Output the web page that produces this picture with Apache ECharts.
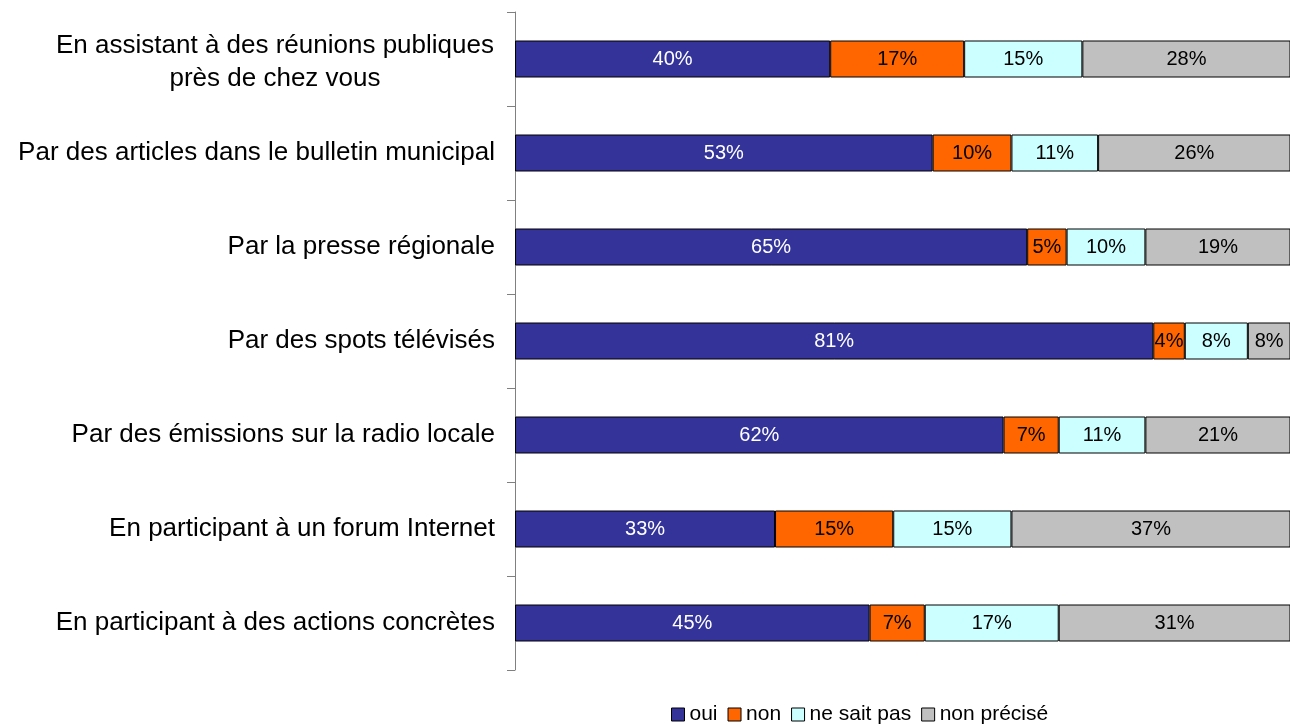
<!DOCTYPE html>
<html>
<head>
<meta charset="utf-8">
<script src="https://cdn.jsdelivr.net/npm/echarts@6/dist/echarts.min.js"></script>
<style>
    html, body { margin: 0; padding: 0; background: #fff; }
    #main { width: 1290px; height: 725px; }
</style>
</head>
<body>
<div id="main"></div>

<script type="text/javascript">

    var categories = [
        "En assistant à des réunions publiques\nprès de chez vous",
        "Par des articles dans le bulletin municipal",
        "Par la presse régionale",
        "Par des spots télévisés",
        "Par des émissions sur la radio locale",
        "En participant à un forum Internet",
        "En participant à des actions concrètes"
    ];
    var seriesNames = ["oui", "non", "ne sait pas", "non précisé"];
    var oui = [40, 53, 65, 81, 62, 33, 45];
    var non = [17, 10, 5, 4, 7, 15, 7];
    var neSaitPas = [15, 11, 10, 8, 11, 15, 17];
    var nonPrecise = [28, 26, 19, 8, 21, 37, 31];

    var font = "'Liberation Sans', Arial, sans-serif";
    var colors = ['#333399', '#FF6600', '#CCFFFF', '#C0C0C0'];
    var values = [oui, non, neSaitPas, nonPrecise];

    var ec = echarts.init(document.getElementById('main'));

    var series = seriesNames.map(function (name, i) {
        return {
            name: name,
            type: 'bar',
            stack: 'total',
            barWidth: 37,
            data: values[i],
            itemStyle: { borderColor: '#000', borderWidth: 1 },
            label: {
                show: true,
                position: 'inside',
                formatter: '{c}%',
                color: i === 0 ? '#fff' : '#000',
                fontFamily: font,
                fontSize: 20
            }
        };
    });

    // the 100% end sits a little past the right edge of the picture
    var option = {
        animation: false,
        color: colors,
        grid: { left: 515, right: 0, top: 12, height: 658 },
        legend: {
            data: seriesNames,
            left: 666,
            top: 699,
            icon: 'rect',
            itemWidth: 13,
            itemHeight: 13,
            itemGap: 10,
            itemStyle: { borderColor: '#000', borderWidth: 1 },
            textStyle: { fontFamily: font, fontSize: 21, color: '#000' }
        },
        xAxis: {
            type: 'value',
            min: 0,
            max: 98.35,
            show: false
        },
        yAxis: {
            type: 'category',
            inverse: true,
            data: categories,
            axisLine: { show: true, lineStyle: { color: '#808080' } },
            axisTick: { show: true, length: 8, lineStyle: { color: '#808080' } },
            axisLabel: {
                margin: 20,
                fontFamily: font,
                fontSize: 26,
                color: '#000',
                formatter: function (v) {
                    if (v.indexOf('\n') < 0) return v;
                    return v.split('\n').map(function (l) { return '{c|' + l + '}'; }).join('\n');
                },
                rich: {
                    c: { width: 440, align: 'center', fontFamily: font, fontSize: 26, lineHeight: 33, padding: [7, 0, 0, 0], color: '#000' }
                }
            }
        },
        series: series
    };

    ec.setOption(option);
</script>
</body>
</html>
